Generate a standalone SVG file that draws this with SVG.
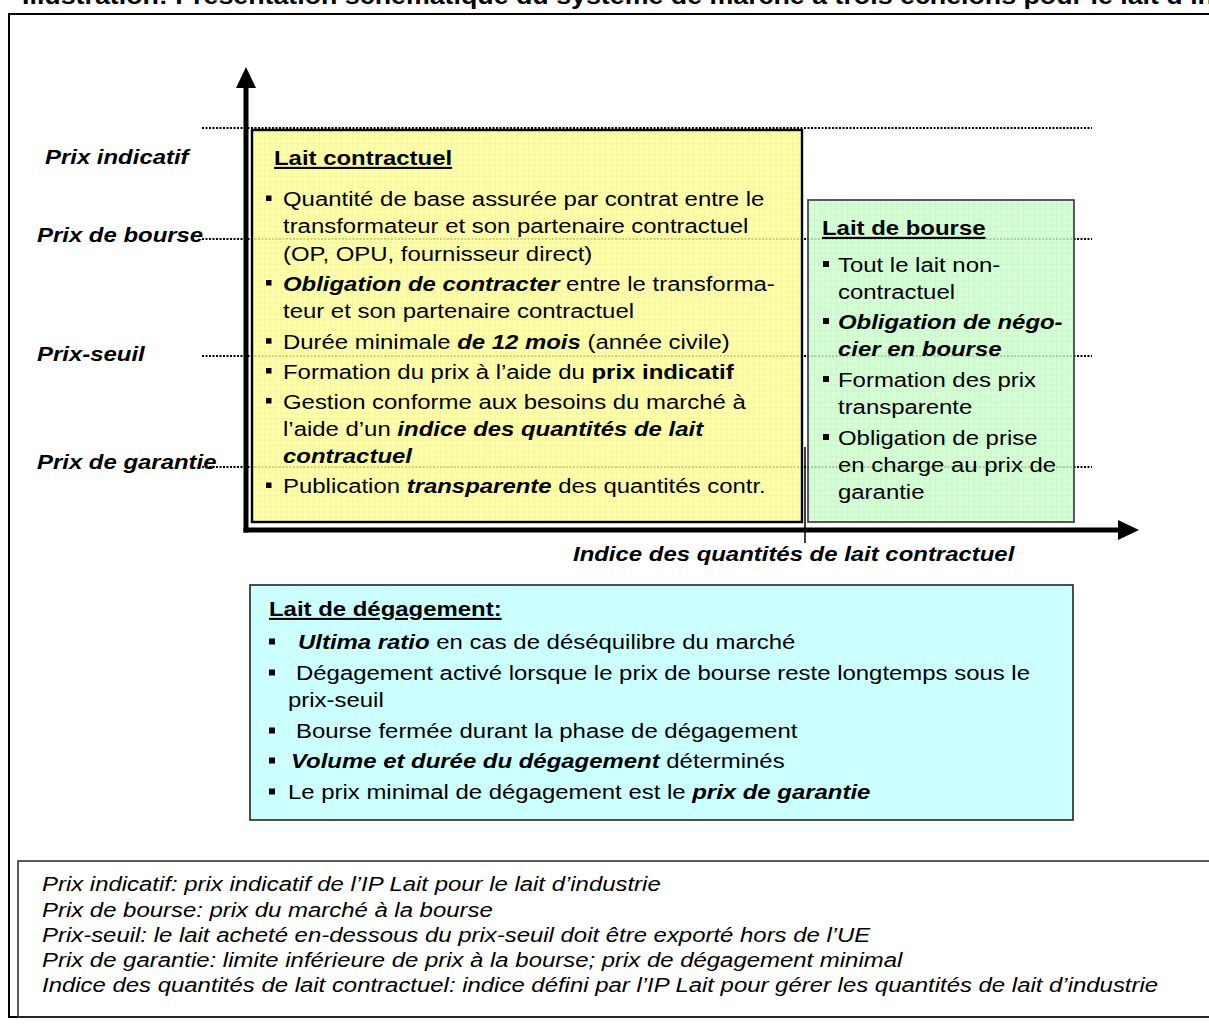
<svg xmlns="http://www.w3.org/2000/svg" width="1209" height="1035" viewBox="0 0 1209 1035">
<style>
.t{font-family:"Liberation Sans",Arial,Helvetica,sans-serif;font-size:21px;fill:#000}
.b{font-weight:bold}
.bi{font-weight:bold;font-style:italic}
.i{font-style:italic}
.u{text-decoration:underline}
.dot{stroke:#000;stroke-width:2;stroke-dasharray:2 1.5;fill:none}
.bul{fill:#000}
.axis{stroke:#000;stroke-width:5;fill:none}
</style>
<defs>
<pattern id="py" width="5.5" height="5.5" patternUnits="userSpaceOnUse">
<rect width="5.5" height="5.5" fill="#ffff99"/>
<path d="M0 0.5H5.5M0.5 0V5.5" stroke="#e8e870" stroke-width="0.8" stroke-opacity="0.45"/>
</pattern>
<pattern id="pg" width="5.5" height="5.5" patternUnits="userSpaceOnUse">
<rect width="5.5" height="5.5" fill="#ccffcc"/>
<path d="M0 0.5H5.5M0.5 0V5.5" stroke="#b0e8b0" stroke-width="0.8" stroke-opacity="0.45"/>
</pattern>
</defs>
<rect width="1209" height="1035" fill="#fff"/>

<g id="title">
<text class="t b" style="font-size:23.5px" transform="translate(22 4) scale(1.14 1)">Illustration: Présentation schématique du système de marché à trois échelons pour le lait d’in</text>
</g>

<g id="frame">
<rect x="9" y="14" width="1215" height="1003" fill="none" stroke="#000" stroke-width="2"/>
</g>

<g id="price-levels">
<line class="dot" x1="202" y1="128" x2="1092" y2="128"/>
<line class="dot" x1="202" y1="239" x2="1092" y2="239"/>
<line class="dot" x1="202" y1="356" x2="1092" y2="356"/>
<line class="dot" x1="202" y1="467" x2="1092" y2="467"/>
<text class="t bi" transform="translate(45 164) scale(1.14 1)">Prix indicatif</text>
<text class="t bi" transform="translate(37 242) scale(1.14 1)">Prix de bourse</text>
<text class="t bi" transform="translate(37 361) scale(1.14 1)">Prix-seuil</text>
<text class="t bi" transform="translate(37 469) scale(1.14 1)">Prix de garantie</text>
</g>

<g id="lait-contractuel">
<rect x="252" y="130" width="550" height="392" fill="url(#py)" opacity="0.82"/>
<rect x="252" y="130" width="550" height="392" fill="none" stroke="#000" stroke-width="2.4"/>
<text class="t b u" transform="translate(274 165) scale(1.14 1)">Lait contractuel</text>
<rect class="bul" x="266" y="195.5" width="5.5" height="5.5"/>
<text class="t" transform="translate(283 206) scale(1.14 1)">Quantité de base assurée par contrat entre le</text>
<text class="t" transform="translate(283 233.3) scale(1.14 1)">transformateur et son partenaire contractuel</text>
<text class="t" transform="translate(283 260.6) scale(1.14 1)">(OP, OPU, fournisseur direct)</text>
<rect class="bul" x="266" y="280" width="5.5" height="5.5"/>
<text class="t" transform="translate(283 290.5) scale(1.14 1)"><tspan class="bi">Obligation de contracter</tspan> entre le transforma-</text>
<text class="t" transform="translate(283 317.8) scale(1.14 1)">teur et son partenaire contractuel</text>
<rect class="bul" x="266" y="338.2" width="5.5" height="5.5"/>
<text class="t" transform="translate(283 348.7) scale(1.14 1)">Durée minimale <tspan class="bi">de 12 mois</tspan> (année civile)</text>
<rect class="bul" x="266" y="368" width="5.5" height="5.5"/>
<text class="t" transform="translate(283 378.5) scale(1.14 1)">Formation du prix à l’aide du <tspan class="b">prix indicatif</tspan></text>
<rect class="bul" x="266" y="398" width="5.5" height="5.5"/>
<text class="t" transform="translate(283 408.5) scale(1.14 1)">Gestion conforme aux besoins du marché à</text>
<text class="t" transform="translate(283 435.8) scale(1.14 1)">l’aide d’un <tspan class="bi">indice des quantités de lait</tspan></text>
<text class="t bi" transform="translate(283 463.1) scale(1.14 1)">contractuel</text>
<rect class="bul" x="266" y="482.5" width="5.5" height="5.5"/>
<text class="t" transform="translate(283 493) scale(1.14 1)">Publication <tspan class="bi">transparente</tspan> des quantités contr.</text>
</g>

<g id="lait-de-bourse">
<rect x="808" y="200" width="266" height="322" fill="url(#pg)" opacity="0.82"/>
<rect x="808" y="200" width="266" height="322" fill="none" stroke="#333" stroke-width="1.6"/>
<text class="t b u" transform="translate(822 235) scale(1.14 1)">Lait de bourse</text>
<rect class="bul" x="823" y="261" width="6" height="6"/>
<text class="t" transform="translate(838 272) scale(1.14 1)">Tout le lait non-</text>
<text class="t" transform="translate(838 299) scale(1.14 1)">contractuel</text>
<rect class="bul" x="823" y="318" width="6" height="6"/>
<text class="t bi" transform="translate(838 329) scale(1.14 1)">Obligation de négo-</text>
<text class="t bi" transform="translate(838 356) scale(1.14 1)">cier en bourse</text>
<rect class="bul" x="823" y="376" width="6" height="6"/>
<text class="t" transform="translate(838 387) scale(1.14 1)">Formation des prix</text>
<text class="t" transform="translate(838 414) scale(1.14 1)">transparente</text>
<rect class="bul" x="823" y="434" width="6" height="6"/>
<text class="t" transform="translate(838 445) scale(1.14 1)">Obligation de prise</text>
<text class="t" transform="translate(838 472) scale(1.14 1)">en charge au prix de</text>
<text class="t" transform="translate(838 499) scale(1.14 1)">garantie</text>
</g>

<g id="connectors">
<line x1="805" y1="447" x2="805" y2="543" stroke="#000" stroke-width="1.5"/>
<line class="axis" x1="246" y1="86" x2="246" y2="532.5"/>
<polygon points="246,67 236,88 256,88" fill="#000"/>
<line class="axis" x1="243.5" y1="530" x2="1120" y2="530"/>
<polygon points="1139,530 1118,520 1118,540" fill="#000"/>
</g>

<g id="axis-label">
<text class="t bi" transform="translate(573 561) scale(1.14 1)">Indice des quantités de lait contractuel</text>
</g>

<g id="lait-de-degagement">
<rect x="250" y="585" width="823" height="235" fill="#ccffff" stroke="#222" stroke-width="1.6"/>
<text class="t b u" transform="translate(269 616) scale(1.14 1)">Lait de dégagement:</text>
<rect class="bul" x="269" y="638.5" width="6" height="6"/>
<text class="t" transform="translate(298 649) scale(1.14 1)"><tspan class="bi">Ultima ratio</tspan> en cas de déséquilibre du marché</text>
<rect class="bul" x="269" y="669.5" width="6" height="6"/>
<text class="t" transform="translate(296 680) scale(1.14 1)">Dégagement activé lorsque le prix de bourse reste longtemps sous le</text>
<text class="t" transform="translate(288 707) scale(1.14 1)">prix-seuil</text>
<rect class="bul" x="269" y="727.5" width="6" height="6"/>
<text class="t" transform="translate(296 738) scale(1.14 1)">Bourse fermée durant la phase de dégagement</text>
<rect class="bul" x="269" y="757.5" width="6" height="6"/>
<text class="t" transform="translate(291 768) scale(1.14 1)"><tspan class="bi">Volume et durée du dégagement</tspan> déterminés</text>
<rect class="bul" x="269" y="788.5" width="6" height="6"/>
<text class="t" transform="translate(288 799) scale(1.14 1)">Le prix minimal de dégagement est le <tspan class="bi">prix de garantie</tspan></text>
</g>

<g id="legend">
<rect x="18" y="861" width="1205" height="156" fill="none" stroke="#333" stroke-width="1.6"/>
<text class="t i" transform="translate(42 891) scale(1.14 1)">Prix indicatif: prix indicatif de l’IP Lait pour le lait d’industrie</text>
<text class="t i" transform="translate(42 916.5) scale(1.14 1)">Prix de bourse: prix du marché à la bourse</text>
<text class="t i" transform="translate(42 942) scale(1.14 1)">Prix-seuil: le lait acheté en-dessous du prix-seuil doit être exporté hors de l’UE</text>
<text class="t i" transform="translate(42 967) scale(1.14 1)">Prix de garantie: limite inférieure de prix à la bourse; prix de dégagement minimal</text>
<text class="t i" transform="translate(42 992) scale(1.14 1)">Indice des quantités de lait contractuel: indice défini par l’IP Lait pour gérer les quantités de lait d’industrie</text>
</g>
</svg>
